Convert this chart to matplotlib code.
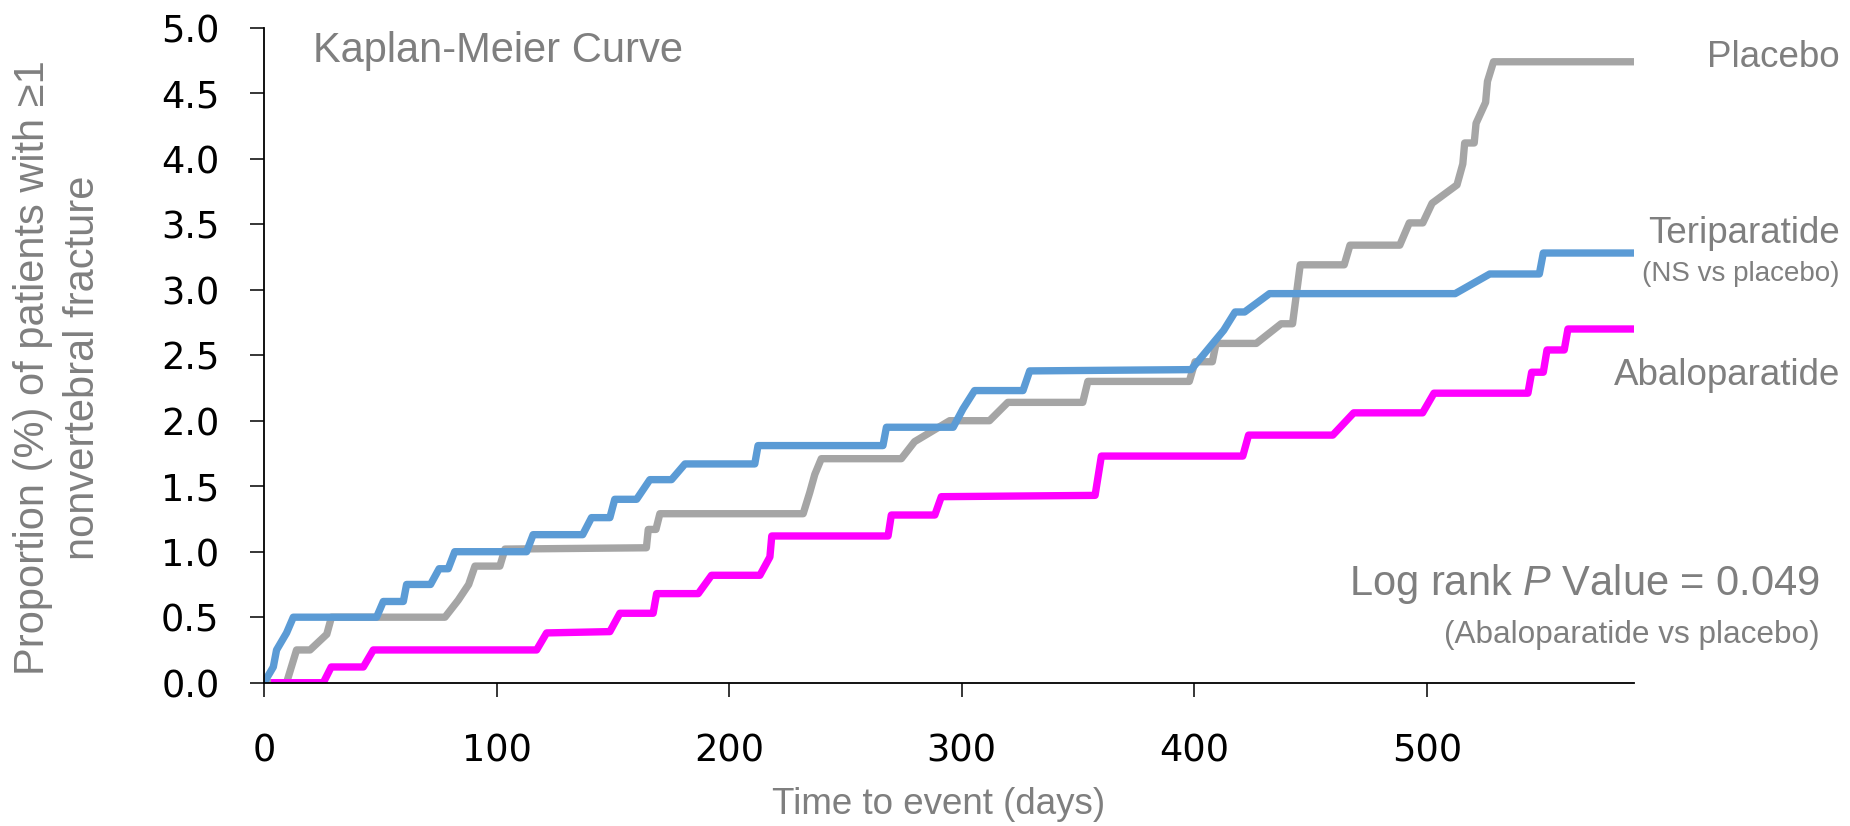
import matplotlib.pyplot as plt

# Kaplan-Meier curves (day, cumulative %)
placebo_dias = [0, 9.7, 14, 19.8, 27, 29, 77.8, 83.5, 88, 90.7, 101.4, 103.6,
                164.4, 165.2, 168.5, 170.2, 231.8, 234.6, 236.8, 239.6, 274, 279.7,
                294.8, 311.9, 319.8, 352, 354.2, 397.8, 400.3, 407.7, 409.3, 426.6,
                437.3, 442.2, 445.5, 464.4, 466.9, 488.3, 492.4, 498.2, 502.2, 512.9,
                515.4, 516.2, 520.3, 521.1, 525.2, 526, 528.6, 589]
placebo_pct = [0, 0, 0.25, 0.25, 0.37, 0.5, 0.5, 0.63, 0.75, 0.89, 0.89, 1.02,
               1.03, 1.17, 1.17, 1.29, 1.29, 1.45, 1.59, 1.71, 1.71, 1.84,
               2.0, 2.0, 2.14, 2.14, 2.30, 2.30, 2.45, 2.45, 2.59, 2.59,
               2.74, 2.74, 3.19, 3.19, 3.34, 3.34, 3.51, 3.51, 3.66, 3.80,
               3.96, 4.12, 4.12, 4.27, 4.43, 4.59, 4.74, 4.74]

teri_dias = [0, 4, 5.4, 9.7, 12.6, 48.4, 51.3, 59.9, 61.3, 71.6, 75.3, 79.2, 82,
             112.9, 115.7, 137, 140.8, 148.7, 150.8, 160.2, 165.9, 175.2, 181,
             211, 212.4, 266.1, 267.6, 296.3, 300.5, 305.5, 326.3, 329.2, 398.6,
             412.6, 417.5, 421.6, 432.3, 512.1, 527, 548.3, 550, 589]
teri_pct = [0, 0.12, 0.25, 0.38, 0.5, 0.5, 0.62, 0.62, 0.75, 0.75, 0.87, 0.87, 1.0,
            1.0, 1.13, 1.13, 1.26, 1.26, 1.40, 1.40, 1.55, 1.55, 1.67,
            1.67, 1.81, 1.81, 1.95, 1.95, 2.09, 2.23, 2.23, 2.38, 2.39,
            2.69, 2.83, 2.83, 2.97, 2.97, 3.12, 3.12, 3.28, 3.28]

abalo_dias = [3, 25.5, 28.9, 42.7, 47, 117.2, 121.5, 148.7, 153, 167.3, 168.8,
              186.7, 192.4, 213.2, 217.5, 218.3, 268.3, 269.7, 288.4, 291.2, 357.3,
              360, 420.8, 423.3, 459.5, 468.5, 498.1, 503, 543.4, 545, 550, 551.6,
              559, 560.6, 589]
abalo_pct = [0, 0, 0.12, 0.12, 0.25, 0.25, 0.38, 0.39, 0.53, 0.53, 0.68,
             0.68, 0.82, 0.82, 0.96, 1.12, 1.12, 1.28, 1.28, 1.42, 1.43,
             1.73, 1.73, 1.89, 1.89, 2.06, 2.06, 2.21, 2.21, 2.37, 2.37, 2.54,
             2.54, 2.70, 2.70]

x_ticks = [0, 100, 200, 300, 400, 500]
y_ticks = [0, 0.5, 1.0, 1.5, 2.0, 2.5, 3.0, 3.5, 4.0, 4.5, 5.0]

cinza_texto = '#7f7f7f'
W, H = 1850, 826

plt.rcParams['mathtext.fontset'] = 'custom'
plt.rcParams['mathtext.rm'] = 'Liberation Sans'
plt.rcParams['mathtext.it'] = 'Liberation Sans:italic'

fig = plt.figure(figsize=(W / 100, H / 100), dpi=100)
ax = fig.add_axes([264 / W, 1 - 682.7 / H, (1634 - 264) / W, (682.7 - 27.7) / H])

estilo = dict(linewidth=5.3, solid_joinstyle='round', solid_capstyle='butt')
ax.plot(placebo_dias, placebo_pct, color='#a5a5a5', **estilo)
ax.plot(abalo_dias, abalo_pct, color='#ff00ff', **estilo)
ax.plot(teri_dias, teri_pct, color='#5b9bd5', **estilo)

ax.set_xlim(0, 589)
ax.set_ylim(0, 5)
ax.set_xticks(x_ticks)
ax.set_yticks(y_ticks)
ax.set_yticklabels([f'{v:.1f}' for v in y_ticks])
for lado in ['top', 'right']:
    ax.spines[lado].set_visible(False)
for lado in ['left', 'bottom']:
    ax.spines[lado].set_linewidth(1.3)
    ax.spines[lado].set_color('black')
ax.tick_params(axis='both', direction='out', length=10, width=1.1,
               labelsize=26.5, colors='black')
ax.tick_params(axis='y', pad=22)
ax.tick_params(axis='x', pad=26)
for lbl in ax.get_xticklabels() + ax.get_yticklabels():
    lbl.set_fontfamily('DejaVu Sans')

fonte = 'Liberation Sans'

# textos
fig.text(313 / W, 1 - 61.7 / H, 'Kaplan-Meier Curve', fontsize=30, family=fonte,
         color=cinza_texto, va='baseline', ha='left')
fig.text(1840 / W, 1 - 66.7 / H, 'Placebo', fontsize=26.5, family=fonte,
         color=cinza_texto, va='baseline', ha='right')
fig.text(1840 / W, 1 - 243.3 / H, 'Teriparatide', fontsize=26.5, family=fonte,
         color=cinza_texto, va='baseline', ha='right')
fig.text(1840 / W, 1 - 281 / H, '(NS vs placebo)', fontsize=20, family=fonte,
         color=cinza_texto, va='baseline', ha='right')
fig.text(1840 / W, 1 - 385 / H, 'Abaloparatide', fontsize=26.5, family=fonte,
         color=cinza_texto, va='baseline', ha='right')
fig.text(1820 / W, 1 - 595 / H, r'Log rank $\mathit{P}$ Value = 0.049', fontsize=30,
         family=fonte, color=cinza_texto, va='baseline', ha='right')
fig.text(1820 / W, 1 - 643 / H, '(Abaloparatide vs placebo)', fontsize=22.7,
         family=fonte, color=cinza_texto, va='baseline', ha='right')

# rótulos dos eixos
fig.text(938.6 / W, 1 - 814 / H, 'Time to event (days)', fontsize=26.5, family=fonte,
         color=cinza_texto, va='baseline', ha='center')
fig.text(58 / W, 1 - 368 / H, 'Proportion (%) of patients with \u22651\nnonvertebral fracture',
         fontsize=30, family=fonte, color=cinza_texto, rotation=90,
         va='center', ha='center', multialignment='center', linespacing=1.32)

plt.savefig('out.png', dpi=100)
